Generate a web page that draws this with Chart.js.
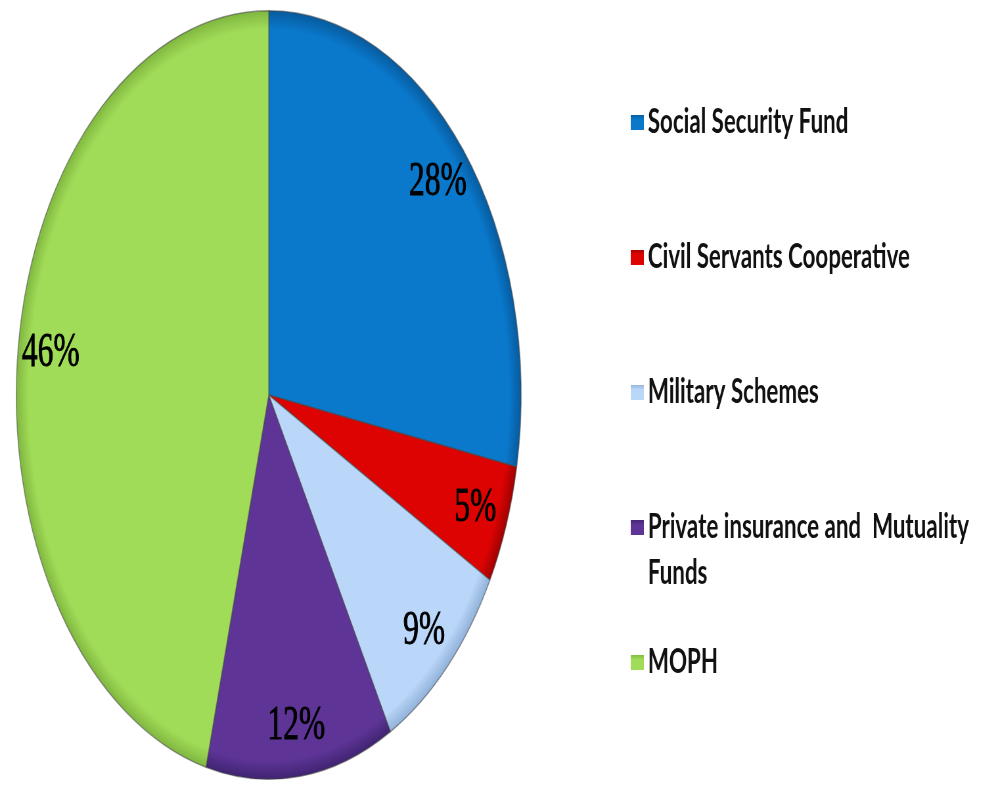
<!DOCTYPE html>
<html>
<head>
<meta charset="utf-8">
<script src="https://cdn.jsdelivr.net/npm/chart.js@4/dist/chart.umd.min.js"></script>
<style>
  html, body { margin: 0; padding: 0; background: #ffffff; overflow: hidden; }
  #wrap { position: absolute; left: 0; top: 0; width: 1513px; height: 790px;
          transform: scaleX(0.657); transform-origin: 0 0; }
</style>
</head>
<body>
<div id="wrap"><canvas id="c" width="1513" height="790"></canvas></div>
<script>
const categories = ["Social Security Fund", "Civil Servants Cooperative", "Military Schemes", "Private insurance and  Mutuality Funds", "MOPH"];
const shares = [28, 5, 9, 12, 46];
const sliceColors = ["#0a78cb", "#de0303", "#bad6f8", "#5e3597", "#a1dc58"];
const rimColors = ["#075a9c", "#9c0202", "#8fb0d8", "#3f2370", "#7fb63f"];

function sliceFill(ctx) {
  const i = ctx.dataIndex;
  const chart = ctx.chart;
  const a = chart.chartArea;
  if (!a) return sliceColors[i];
  const cx = (a.left + a.right) / 2, cy = (a.top + a.bottom) / 2;
  const r = Math.min(a.right - a.left, a.bottom - a.top) / 2;
  const g = chart.ctx.createRadialGradient(cx, cy, 0, cx, cy, r);
  g.addColorStop(0, sliceColors[i]);
  g.addColorStop(0.95, sliceColors[i]);
  g.addColorStop(1, rimColors[i]);
  return g;
}

const labelPlugin = {
  id: 'pctLabels',
  afterDatasetsDraw(chart) {
    const ctx = chart.ctx;
    const meta = chart.getDatasetMeta(0);
    ctx.save();
    ctx.font = '48px "Liberation Serif", "Times New Roman", serif';
    ctx.fillStyle = '#000000';
    ctx.strokeStyle = '#000000';
    ctx.lineWidth = 0.9;
    ctx.textAlign = 'center';
    ctx.textBaseline = 'middle';
    meta.data.forEach((arc, i) => {
      const p = arc.getProps(['x', 'y', 'startAngle', 'endAngle', 'outerRadius'], true);
      const mid = (p.startAngle + p.endAngle) / 2;
      const d = p.outerRadius * 0.87;
      const tx = p.x + Math.cos(mid) * d, ty = p.y + Math.sin(mid) * d;
      ctx.fillText(shares[i] + '%', tx, ty);
      ctx.strokeText(shares[i] + '%', tx, ty);
    });
    ctx.restore();
  }
};

function wrapText(ctx, text, maxW) {
  const words = text.split(' ');
  const lines = [];
  let cur = '';
  words.forEach(w => {
    const test = cur === '' ? w : cur + ' ' + w;
    if (ctx.measureText(test).width > maxW && cur !== '') {
      lines.push(cur);
      cur = w;
    } else {
      cur = test;
    }
  });
  if (cur !== '') lines.push(cur);
  return lines;
}

const legendPlugin = {
  id: 'sideLegend',
  afterDraw(chart) {
    const ctx = chart.ctx;
    const labels = chart.data.labels;
    const boxX = 960, textX = 986, firstY = 122, step = 135, lineH = 46;
    ctx.save();
    ctx.font = 'bold 34px Lato, "Open Sans", sans-serif';
    ctx.textBaseline = 'middle';
    ctx.textAlign = 'left';
    labels.forEach((lab, i) => {
      const y = firstY + step * i;
      const bg = ctx.createLinearGradient(0, y - 8, 0, y + 8);
      bg.addColorStop(0, rimColors[i]);
      bg.addColorStop(0.35, sliceColors[i]);
      bg.addColorStop(1, sliceColors[i]);
      ctx.fillStyle = bg;
      ctx.fillRect(boxX, y - 7, 20, 15);
      ctx.fillStyle = '#111111';
      const lines = wrapText(ctx, lab, 530);
      lines.forEach((ln, k) => ctx.fillText(ln, textX, y + k * lineH));
    });
    ctx.restore();
  }
};

new Chart(document.getElementById('c'), {
  type: 'pie',
  data: {
    labels: categories,
    datasets: [{
      data: shares,
      backgroundColor: sliceFill,
      borderColor: 'rgba(70,70,70,0.55)',
      borderWidth: 1.5
    }]
  },
  options: {
    responsive: false,
    animation: false,
    rotation: 0,
    layout: { padding: { left: 24, top: 10, bottom: 10, right: 719 } },
    plugins: {
      legend: { display: false },
      tooltip: { enabled: false }
    }
  },
  plugins: [labelPlugin, legendPlugin]
});
</script>
</body>
</html>
